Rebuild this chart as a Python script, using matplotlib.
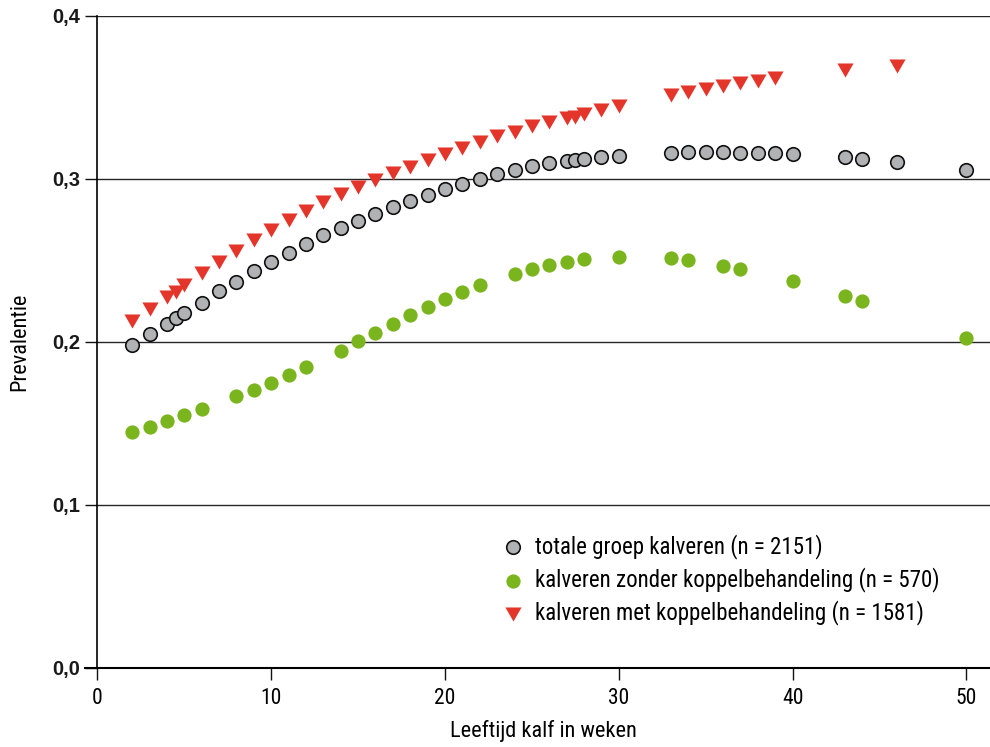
import matplotlib
matplotlib.use("Agg")
import matplotlib.pyplot as plt
from matplotlib.ticker import FuncFormatter

# ---- data ----
weeks_total = [2, 3, 4, 4.5, 5, 6, 7, 8, 9, 10, 11, 12, 13, 14, 15, 16, 17, 18, 19, 20,
               21, 22, 23, 24, 25, 26, 27, 27.5, 28, 29, 30, 33, 34, 35, 36, 37, 38, 39,
               40, 43, 44, 46, 50]
prev_total = [0.198, 0.205, 0.211, 0.2145, 0.218, 0.224, 0.231, 0.237, 0.2436, 0.249,
              0.2548, 0.2603, 0.2654, 0.270, 0.2742, 0.2787, 0.2826, 0.2863, 0.2902,
              0.2937, 0.2969, 0.3002, 0.3029, 0.3055, 0.308, 0.3096, 0.311, 0.3115,
              0.3123, 0.3135, 0.3143, 0.3161, 0.3163, 0.3163, 0.3163, 0.316, 0.316,
              0.3158, 0.3151, 0.3135, 0.3125, 0.3104, 0.3053]

weeks_zonder = [2, 3, 4, 5, 6, 8, 9, 10, 11, 12, 14, 15, 16, 17, 18, 19, 20, 21, 22,
                24, 25, 26, 27, 28, 30, 33, 34, 36, 37, 40, 43, 44, 50]
prev_zonder = [0.1446, 0.148, 0.1517, 0.1552, 0.1589, 0.1667, 0.1708, 0.175, 0.1798,
               0.1847, 0.1947, 0.2004, 0.2057, 0.211, 0.2164, 0.2213, 0.2262, 0.2305,
               0.2348, 0.2417, 0.2446, 0.247, 0.2491, 0.2507, 0.2521, 0.2513, 0.2503,
               0.2468, 0.2448, 0.2376, 0.2284, 0.2252, 0.2026]

weeks_met = [2, 3, 4, 4.5, 5, 6, 7, 8, 9, 10, 11, 12, 13, 14, 15, 16, 17, 18, 19, 20,
             21, 22, 23, 24, 25, 26, 27, 27.5, 28, 29, 30, 33, 34, 35, 36, 37, 38, 39,
             43, 46]
prev_met = [0.2131, 0.220, 0.2276, 0.2309, 0.2348, 0.2421, 0.2489, 0.256, 0.2626,
            0.2689, 0.2746, 0.2804, 0.2859, 0.2908, 0.2951, 0.2994, 0.3035, 0.3076,
            0.3115, 0.3152, 0.319, 0.3225, 0.3262, 0.3288, 0.3323, 0.3348, 0.3374,
            0.3382, 0.3399, 0.3423, 0.3448, 0.3513, 0.3534, 0.3552, 0.3571, 0.3589,
            0.3603, 0.362, 0.3669, 0.3693]

labels = ["totale groep kalveren (n = 2151)",
          "kalveren zonder koppelbehandeling (n = 570)",
          "kalveren met koppelbehandeling (n = 1581)"]
x_ticks = [0, 10, 20, 30, 40, 50]
y_ticks = [0.0, 0.1, 0.2, 0.3, 0.4]
x_label = "Leeftijd kalf in weken"
y_label = "Prevalentie"

# ---- style ----
narrow = ["Roboto Condensed", "DejaVu Sans"]
regular = ["Liberation Sans", "DejaVu Sans"]

fig = plt.figure(figsize=(9.9, 7.47), dpi=100)
ax = fig.add_axes([0.0984, 0.1058, 0.9016, 0.8728])

tri = [(-1, 0.87), (1, 0.87), (0, -0.87)]

ax.scatter(weeks_met, prev_met, marker=tri, s=135, color="#e4352a",
           linewidths=0, zorder=3, label=labels[2])
ax.scatter(weeks_zonder, prev_zonder, marker="o", s=105, color="#7ab51d",
           linewidths=0, zorder=3, label=labels[1])
ax.scatter(weeks_total, prev_total, marker="o", s=95, facecolor="#b1b2b4",
           edgecolor="#111111", linewidths=1.2, zorder=4, label=labels[0])

ax.set_xlim(0, 51.36)
ax.set_ylim(0, 0.4)
ax.set_xticks(x_ticks)
ax.set_yticks(y_ticks)
ax.yaxis.set_major_formatter(FuncFormatter(lambda v, p: f"{v:.1f}".replace(".", ",")))

for yv in y_ticks[1:]:
    ax.axhline(yv, color="#262626", lw=1.0, zorder=1)

for s in ["top", "right"]:
    ax.spines[s].set_visible(False)
ax.spines["left"].set_linewidth(1.2)
ax.spines["bottom"].set_linewidth(1.5)
ax.spines["bottom"].set_bounds(-0.7, 51.36)

ax.tick_params(axis="both", direction="out", length=8.5, width=1.0, color="#111111")
ax.tick_params(axis="x", pad=6)
ax.tick_params(axis="y", pad=4)

for t in ax.get_xticklabels():
    t.set_family(narrow)
    t.set_fontsize(15.5)
for t in ax.get_yticklabels():
    t.set_family(regular)
    t.set_fontsize(14.5)
    t.set_fontweight("bold")
    t.set_color("#1a1a1a")

ax.set_xlabel(x_label, family=narrow, fontsize=16, labelpad=8)
ax.set_ylabel(y_label, family=narrow, fontsize=16, labelpad=16)

handles, labs = ax.get_legend_handles_labels()
order = [2, 1, 0]
leg = ax.legend([handles[i] for i in order], [labs[i] for i in order],
                loc="upper left", bbox_to_anchor=(0.4528, 0.2055), frameon=False,
                prop={"family": narrow, "size": 16.5}, handletextpad=0.45,
                labelspacing=0.36, borderaxespad=0, borderpad=0, handlelength=1.0)

fig.savefig("out.png", dpi=100)
